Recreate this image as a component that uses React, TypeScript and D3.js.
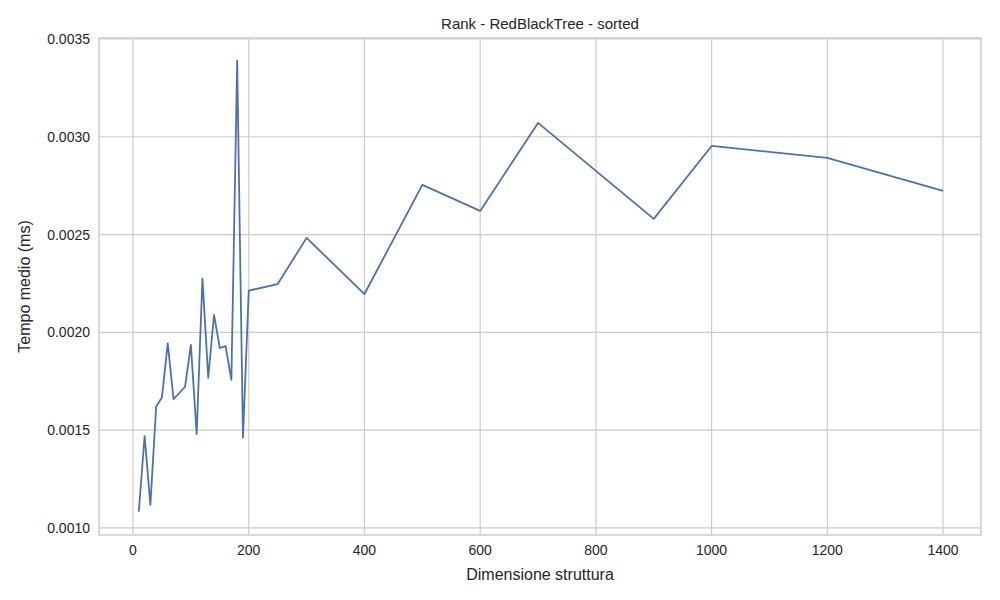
import { useEffect, useRef } from "react";
import * as d3 from "d3";

const sizes = [10, 20, 30, 40, 50, 60, 70, 80, 90, 100, 110, 120, 130, 140, 150, 160, 170, 180, 190, 200, 250, 300, 400, 500, 600, 700, 900, 1000, 1200, 1400];
const times = [0.001083, 0.00147, 0.001118, 0.00162, 0.001668, 0.001944, 0.001658, 0.00169, 0.001722, 0.001936, 0.00148, 0.002275, 0.001768, 0.002089, 0.001919, 0.00193, 0.001757, 0.003389, 0.001462, 0.002213, 0.002247, 0.002483, 0.002196, 0.002754, 0.002621, 0.003071, 0.00258, 0.002953, 0.002892, 0.002723];
const xTicks = [0, 200, 400, 600, 800, 1000, 1200, 1400];
const yTicks = [0.001, 0.0015, 0.002, 0.0025, 0.003, 0.0035];

export default function App() {
  const ref = useRef<SVGSVGElement>(null);

  useEffect(() => {
    const el = ref.current;
    if (!el) return;
    const W = 1000, H = 600, M = { top: 38, right: 19, bottom: 65, left: 99 };
    const svg = d3.select(el);
    svg.selectAll("*").remove();
    const font = "Liberation Sans, Arial, sans-serif";

    const x = d3.scaleLinear().domain([-58.8, 1465.6]).range([M.left, W - M.right]);
    const y = d3.scaleLinear().domain([0.000964, 0.003505]).range([H - M.bottom, M.top]);

    svg.append("rect").attr("width", W).attr("height", H).attr("fill", "#fff");

    svg.append("g").selectAll("line").data(xTicks).join("line")
      .attr("x1", (d) => x(d)).attr("x2", (d) => x(d)).attr("y1", M.top).attr("y2", H - M.bottom)
      .attr("stroke", "#cccccc").attr("stroke-width", 1.2);
    svg.append("g").selectAll("line").data(yTicks).join("line")
      .attr("x1", M.left).attr("x2", W - M.right).attr("y1", (d) => y(d)).attr("y2", (d) => y(d))
      .attr("stroke", "#cccccc").attr("stroke-width", 1.2);

    svg.append("rect").attr("x", M.left).attr("y", M.top)
      .attr("width", W - M.left - M.right).attr("height", H - M.top - M.bottom)
      .attr("fill", "none").attr("stroke", "#cccccc").attr("stroke-width", 1.5);

    const line = d3.line<number>().x((_, i) => x(sizes[i])).y((d) => y(d));
    svg.append("path").datum(times).attr("d", line).attr("fill", "none")
      .attr("stroke", "#4c72b0").attr("stroke-width", 1.8).attr("stroke-linejoin", "round");

    svg.append("g").selectAll("text").data(xTicks).join("text")
      .attr("x", (d) => x(d)).attr("y", H - M.bottom + 20).attr("text-anchor", "middle")
      .attr("font-family", font).attr("font-size", 14).attr("fill", "#262626").text((d) => d);
    svg.append("g").selectAll("text").data(yTicks).join("text")
      .attr("x", M.left - 9).attr("y", (d) => y(d) + 5).attr("text-anchor", "end")
      .attr("font-family", font).attr("font-size", 14).attr("fill", "#262626").text((d) => d.toFixed(4));

    svg.append("text").attr("x", (M.left + W - M.right) / 2).attr("y", 580).attr("text-anchor", "middle")
      .attr("font-family", font).attr("font-size", 16).attr("fill", "#262626").text("Dimensione struttura");
    svg.append("text").attr("transform", `translate(30,${(M.top + H - M.bottom) / 2}) rotate(-90)`)
      .attr("text-anchor", "middle").attr("font-family", font).attr("font-size", 16).attr("fill", "#262626")
      .text("Tempo medio (ms)");
    svg.append("text").attr("x", (M.left + W - M.right) / 2).attr("y", 29).attr("text-anchor", "middle")
      .attr("font-family", font).attr("font-size", 15).attr("fill", "#262626").text("Rank - RedBlackTree - sorted");
  }, []);

  return <svg ref={ref} width={1000} height={600} style={{ display: "block", margin: -8 }} />;
}
